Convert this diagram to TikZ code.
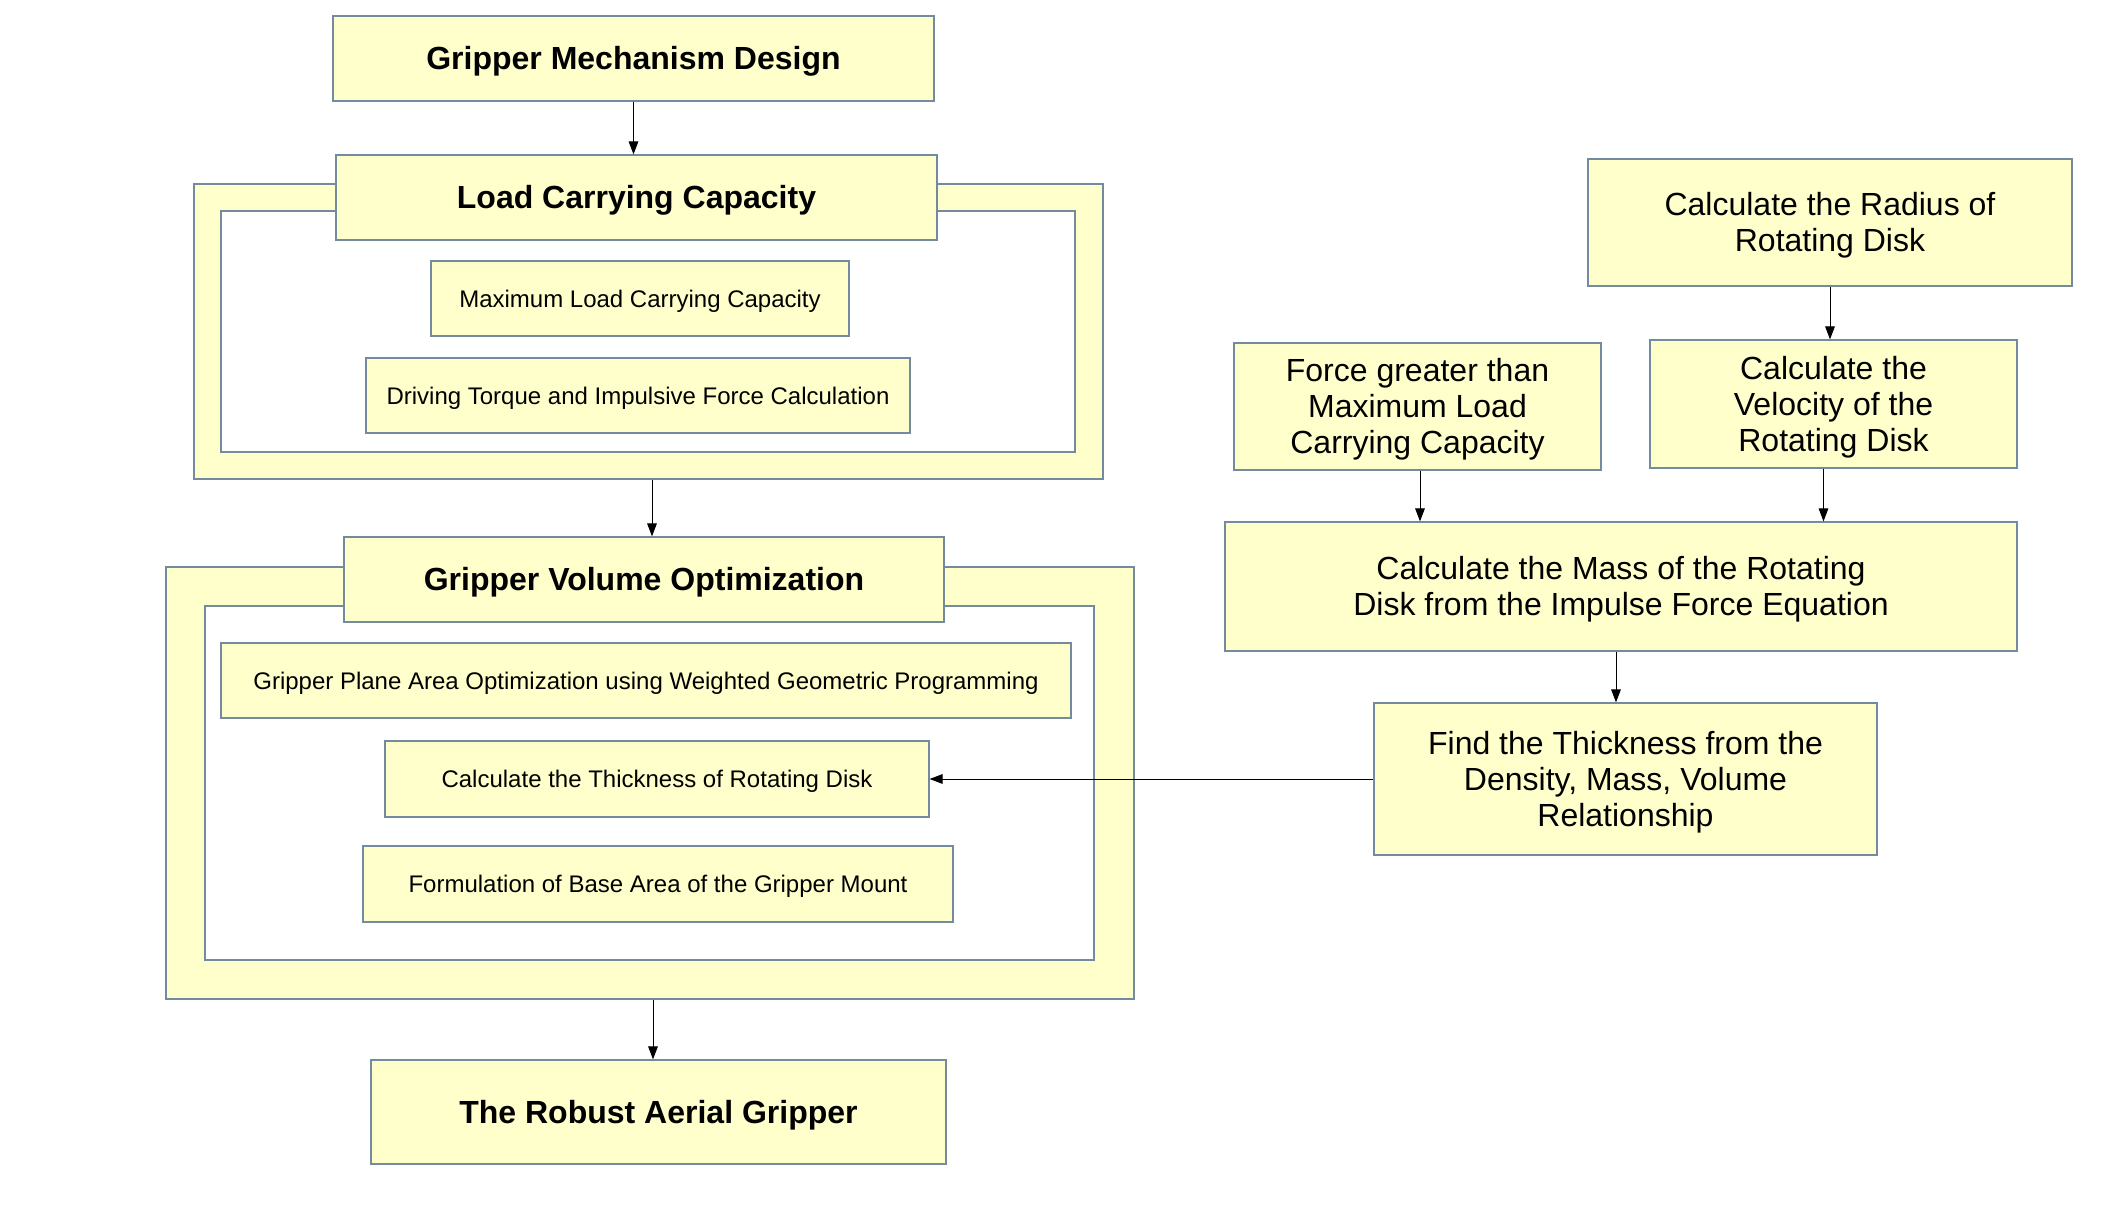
\documentclass[tikz,border=0pt]{standalone}
\usepackage{fontspec}
\setmainfont{Liberation Sans}
\usetikzlibrary{arrows.meta}
\definecolor{boxc}{RGB}{255,255,204}
\definecolor{bordc}{RGB}{116,138,158}
\newcommand\lowstrut{\rule{0pt}{0.92em}}
\tikzset{
  box/.style={draw=bordc, fill=boxc, line width=0.6pt, inner sep=0pt, align=center},
  hole/.style={draw=bordc, fill=white, line width=0.6pt, inner sep=0pt},
  sz/.style 2 args={minimum width=#1*0.5pt, minimum height=#2*0.5pt},
  arr/.style={-{Triangle[length=6.5pt,width=4.8pt]}, line width=0.5pt, black},
  lower/.style={execute at begin node={\lowstrut}},
  big/.style={font=\fontsize{16}{18}\selectfont},
  bigb/.style={font=\fontsize{16}{18}\selectfont\bfseries, lower},
  small/.style={font=\fontsize{12}{14}\selectfont, lower},
}
\begin{document}
\begin{tikzpicture}[x=0.5pt,y=-0.5pt]
\useasboundingbox (0,0) rectangle (2117,1210);
% left column
\node[box, bigb, sz={601}{85}] (gmd) at (633.5,58.5) {Gripper Mechanism Design};
\node[box, sz={909}{295}] (lccf) at (648.5,331.5) {};
\node[hole, sz={854}{241}] (lcci) at (648,331.5) {};
\node[box, bigb, sz={601}{85}] (lcc) at (636.5,197.5) {Load Carrying Capacity};
\node[box, small, sz={418}{75}] (mlcc) at (640,298.5) {Maximum Load Carrying Capacity};
\node[box, small, sz={544}{75}] (dtif) at (638,395.5) {Driving Torque and Impulsive Force Calculation};
\node[box, sz={968}{432}] (gvof) at (650,783) {};
\node[hole, sz={889}{354}] (gvoi) at (649.5,783) {};
\node[box, bigb, sz={600}{85}] (gvo) at (644,579.5) {Gripper Volume Optimization};
\node[box, small, sz={850}{75}] (gpao) at (646,680.5) {Gripper Plane Area Optimization using Weighted Geometric Programming};
\node[box, small, sz={544}{76}] (cttrd) at (657,779) {Calculate the Thickness of Rotating Disk};
\node[box, small, sz={590}{76}] (fba) at (658,884) {Formulation of Base Area of the Gripper Mount};
\node[box, bigb, sz={575}{104}] (rag) at (658.5,1112) {The Robust Aerial Gripper};
% right column
\node[box, big, sz={484}{127}] (rad) at (1830,222.5) {\lowstrut Calculate the Radius of\\Rotating Disk};
\node[box, big, sz={367}{127}] (force) at (1417.5,406.5) {\lowstrut Force greater than\\Maximum Load\\Carrying Capacity};
\node[box, big, sz={367}{128}] (vel) at (1833.5,404) {\lowstrut Calculate the\\Velocity of the\\Rotating Disk};
\node[box, big, sz={792}{129}] (mass) at (1621,586.5) {\lowstrut Calculate the Mass of the Rotating\\Disk from the Impulse Force Equation};
\node[box, big, sz={503}{152}] (find) at (1625.5,779) {\lowstrut Find the Thickness from the\\Density, Mass, Volume\\Relationship};
% connectors
\draw[arr] (gmd.south) -- (gmd.south |- lcc.north);
\draw[arr] ([xshift=1.75pt]lccf.south) -- ([xshift=1.75pt]lccf.south |- gvo.north);
\draw[arr] ([xshift=1.5pt]gvof.south) -- ([xshift=1.5pt]gvof.south |- rag.north);
\draw[arr] (rad.south) -- (rad.south |- vel.north);
\draw[arr] ([xshift=1.25pt]force.south) -- ([xshift=1.25pt]force.south |- mass.north);
\draw[arr] ([xshift=-5pt]vel.south) -- ([xshift=-5pt]vel.south |- mass.north);
\draw[arr] ([xshift=-2.5pt]mass.south) -- ([xshift=-2.5pt]mass.south |- find.north);
\draw[arr] (find.west) -- (cttrd.east);
\end{tikzpicture}
\end{document}
